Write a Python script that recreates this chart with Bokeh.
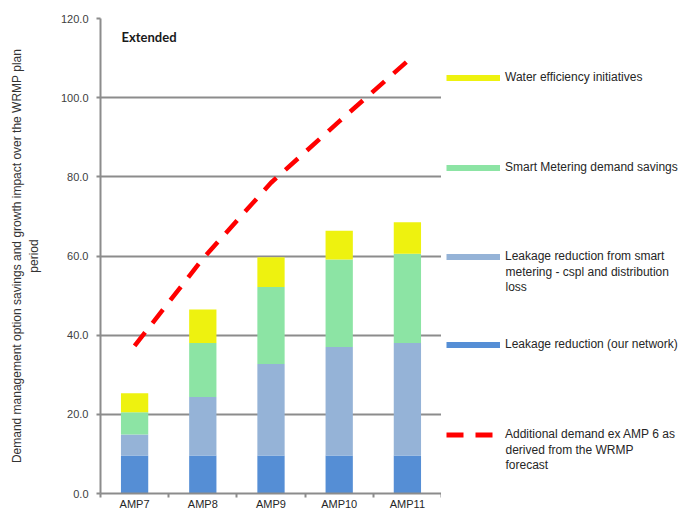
from bokeh.plotting import figure
from bokeh.models import (Range1d, FixedTicker, ColumnDataSource, Legend, LegendItem,
                          Label, PrintfTickFormatter)
from bokeh.layouts import row
from bokeh.embed import file_html
from bokeh.resources import INLINE

# ---- data ----
categories = ["AMP7", "AMP8", "AMP9", "AMP10", "AMP11"]
leakage_network = [9.6, 9.6, 9.6, 9.6, 9.6]
leakage_smart = [5.3, 14.8, 23.1, 27.4, 28.4]
smart_metering = [5.6, 13.6, 19.5, 22.1, 22.6]
water_efficiency = [4.8, 8.5, 7.5, 7.3, 7.9]
additional_demand = [37.3, 59.3, 78.5, 94.0, 109.2]
y_ticks = [0, 20, 40, 60, 80, 100, 120]

series_names = ["leakage_network", "leakage_smart", "smart_metering", "water_efficiency"]
series_labels = {
    "water_efficiency": ["Water efficiency initiatives"],
    "smart_metering": ["Smart Metering demand savings"],
    "leakage_smart": ["Leakage reduction from smart", "metering - cspl and distribution", "loss"],
    "leakage_network": ["Leakage reduction (our network)"],
}
demand_label = ["Additional demand ex AMP 6 as", "derived from the WRMP", "forecast"]
colors = {
    "leakage_network": "#558ED5",
    "leakage_smart": "#95B3D7",
    "smart_metering": "#8CE4A4",
    "water_efficiency": "#EEF20F",
}
DEMAND_COLOR = "#FF0000"
DEMAND_DASH = "17 12"

xpos = [i + 0.5 for i in range(len(categories))]
source = ColumnDataSource(dict(x=xpos,
                               leakage_network=leakage_network,
                               leakage_smart=leakage_smart,
                               smart_metering=smart_metering,
                               water_efficiency=water_efficiency,
                               demand=additional_demand))

FONT = "Liberation Sans"
GRID = "#8C8C8C"

p = figure(width=441, height=512, output_backend="svg", toolbar_location=None,
           x_range=Range1d(0, len(categories)), y_range=Range1d(0, 120),
           min_border_left=100, min_border_right=0, min_border_top=18, min_border_bottom=0)
p.outline_line_color = None

p.vbar_stack(series_names, x="x", width=0.4, source=source,
             fill_color=[colors[s] for s in series_names], line_color=None)

p.line(x="x", y="demand", source=source, line_color=DEMAND_COLOR, line_width=4.5,
       line_dash=DEMAND_DASH)

# axes
p.xgrid.visible = False
p.ygrid.ticker = FixedTicker(ticks=y_ticks)
p.ygrid.grid_line_color = GRID
p.ygrid.grid_line_width = 2

yax = p.yaxis[0]
yax.ticker = FixedTicker(ticks=y_ticks)
yax.formatter = PrintfTickFormatter(format="%.1f")
yax.axis_line_color = GRID
yax.axis_line_width = 2
yax.major_tick_line_color = GRID
yax.major_tick_line_width = 2
yax.major_tick_out = 4
yax.major_tick_in = 0
yax.minor_tick_line_color = None
yax.major_label_text_font = FONT
yax.major_label_text_font_size = "11px"
yax.major_label_text_color = "#404040"
yax.major_label_standoff = 8
yax.axis_label = "Demand management option savings and growth impact over the WRMP plan\nperiod"
yax.axis_label_text_font = FONT
yax.axis_label_text_font_size = "12px"
yax.axis_label_text_font_style = "normal"
yax.axis_label_text_color = "#333333"
yax.axis_label_standoff = 17

xax = p.xaxis[0]
xax.ticker = FixedTicker(ticks=xpos, minor_ticks=list(range(len(categories) + 1)))
xax.major_label_overrides = {x: c for x, c in zip(xpos, categories)}
xax.axis_line_color = GRID
xax.axis_line_width = 2
xax.major_tick_line_color = None
xax.major_tick_out = 0
xax.major_tick_in = 0
xax.minor_tick_line_color = GRID
xax.minor_tick_line_width = 2
xax.minor_tick_out = 4
xax.minor_tick_in = 0
xax.major_label_text_font = FONT
xax.major_label_text_font_size = "11px"
xax.major_label_text_color = "#262626"
xax.major_label_standoff = 0

p.add_layout(Label(x=21, y=457, x_units="screen", y_units="screen", text="Extended",
                   text_font="Lato", text_font_size="13px", text_font_style="bold",
                   text_color="#1a1a1a", text_baseline="middle"))

# ---- legend panel ----
PANEL_H = 512
lp = figure(width=245, height=PANEL_H, output_backend="svg", toolbar_location=None,
            x_range=Range1d(0, 1), y_range=Range1d(0, 1),
            x_axis_location=None, y_axis_location=None,
            min_border=0, min_border_left=0, min_border_right=0,
            min_border_top=0, min_border_bottom=0)
lp.grid.visible = False
lp.outline_line_color = None

NAN = float("nan")
legend_specs = []
for s in ["water_efficiency", "smart_metering", "leakage_smart", "leakage_network"]:
    r = lp.line(x=[NAN, NAN], y=[NAN, NAN], line_color=colors[s], line_width=6)
    legend_specs.append((series_labels[s], r))
rd = lp.line(x=[NAN, NAN], y=[NAN, NAN], line_color=DEMAND_COLOR, line_width=5,
             line_dash=DEMAND_DASH)
legend_specs.append((demand_label, rd))

first_line_centers = [77, 167, 256, 344, 434]  # page y of glyph centres
LINE_H = 15
GLYPH_X = 5
GLYPH_W = 54
STANDOFF = 5
FRAME_SHIFT = 19  # empirical offset of the legend panel's frame bottom
TEXT_COLOR = "#262626"
for (lines, r), cy in zip(legend_specs, first_line_centers):
    bottom = (PANEL_H - cy) - LINE_H / 2 - FRAME_SHIFT
    lg = Legend(items=[LegendItem(label=lines[0], renderers=[r])], location=(GLYPH_X, bottom),
                glyph_width=GLYPH_W, glyph_height=LINE_H, label_height=LINE_H,
                label_standoff=STANDOFF, padding=0, margin=0, spacing=0,
                border_line_color=None, background_fill_alpha=0,
                label_text_font=FONT, label_text_font_size="12px",
                label_text_color=TEXT_COLOR)
    lp.add_layout(lg, "center")
    for k, extra in enumerate(lines[1:], start=1):
        lp.add_layout(Label(x=GLYPH_X + GLYPH_W + STANDOFF,
                            y=PANEL_H - (cy + k * LINE_H) - FRAME_SHIFT,
                            x_units="screen", y_units="screen", text=extra,
                            text_font=FONT, text_font_size="12px", text_color=TEXT_COLOR,
                            text_baseline="middle", text_align="left"))

layout = row(p, lp, spacing=0)
open("out.html", "w").write(file_html(layout, INLINE))
